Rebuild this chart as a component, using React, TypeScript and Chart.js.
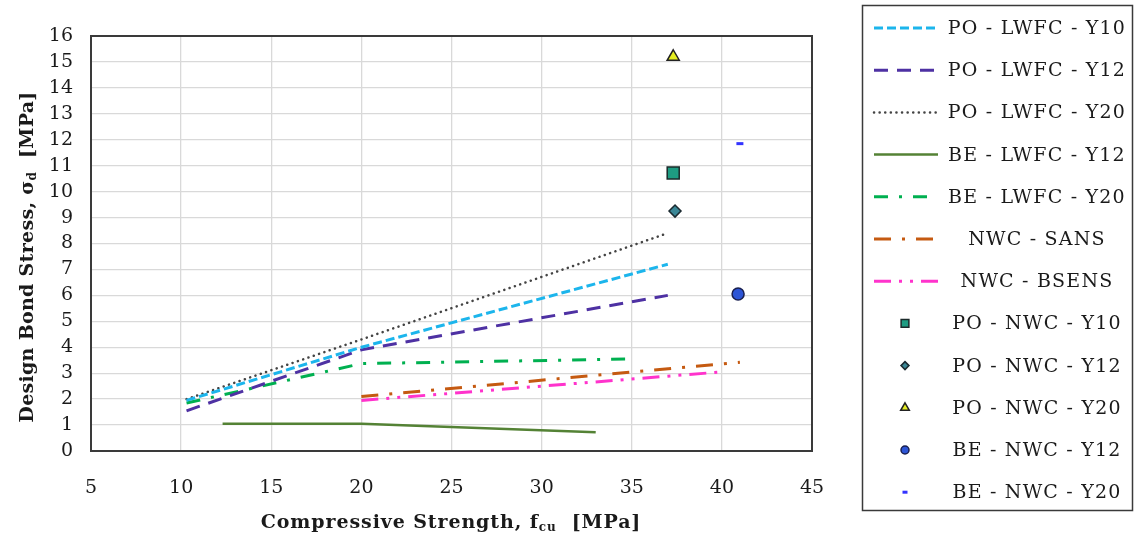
import { useEffect, useRef } from 'react';
import { Chart, registerables } from 'chart.js';
import { drawPoint } from 'chart.js/helpers';

Chart.register(...registerables);

// ---- data ----
const xTickValues = [5, 10, 15, 20, 25, 30, 35, 40, 45];
const yTickValues = [0, 1, 2, 3, 4, 5, 6, 7, 8, 9, 10, 11, 12, 13, 14, 15, 16];

const poLwfcY10X = [10.3, 20, 37];
const poLwfcY10Y = [1.95, 4.0, 7.2];
const poLwfcY12X = [10.3, 20, 37];
const poLwfcY12Y = [1.55, 3.9, 6.0];
const poLwfcY20X = [10.3, 20, 37];
const poLwfcY20Y = [2.0, 4.3, 8.4];
const beLwfcY12X = [12.3, 20, 33];
const beLwfcY12Y = [1.05, 1.05, 0.72];
const beLwfcY20X = [10.3, 20, 35.2];
const beLwfcY20Y = [1.85, 3.37, 3.55];
const nwcSansX = [20, 41];
const nwcSansY = [2.1, 3.42];
const nwcBsensX = [20, 40];
const nwcBsensY = [1.95, 3.05];

const poNwcY10 = [37.3, 10.72];
const poNwcY12 = [37.4, 9.25];
const poNwcY20 = [37.3, 15.2];
const beNwcY12 = [40.9, 6.05];
const beNwcY20 = [41.0, 11.85];

const seriesLabels = [
  'PO - LWFC - Y10',
  'PO - LWFC - Y12',
  'PO - LWFC - Y20',
  'BE - LWFC - Y12',
  'BE - LWFC - Y20',
  'NWC - SANS',
  'NWC - BSENS',
  'PO - NWC - Y10',
  'PO - NWC - Y12',
  'PO - NWC - Y20',
  'BE - NWC - Y12',
  'BE - NWC - Y20',
];

const FONT = "'DejaVu Serif', 'Liberation Serif', serif";

const pts = (xs: number[], ys: number[]) => xs.map((x, i) => ({ x, y: ys[i] }));

type Part = { t: string; sub?: boolean };

function drawRich(ctx: CanvasRenderingContext2D, parts: Part[], cx: number, cy: number, size: number, spacing: number) {
  const mainFont = `bold ${size}px ${FONT}`;
  const subFont = `bold ${Math.round(size * 0.62)}px ${FONT}`;
  (ctx as any).letterSpacing = `${spacing}px`;
  let total = 0;
  const widths = parts.map((p) => {
    ctx.font = p.sub ? subFont : mainFont;
    const w = ctx.measureText(p.t).width;
    total += w;
    return w;
  });
  let x = cx - total / 2;
  ctx.textBaseline = 'middle';
  ctx.textAlign = 'left';
  parts.forEach((p, i) => {
    ctx.font = p.sub ? subFont : mainFont;
    ctx.fillText(p.t, x, p.sub ? cy + size * 0.28 : cy);
    x += widths[i];
  });
  (ctx as any).letterSpacing = '0px';
}

const customPlugin = {
  id: 'customDecor',
  afterDraw(chart: any) {
    const ctx: CanvasRenderingContext2D = chart.ctx;
    const ca = chart.chartArea;
    ctx.save();
    // plot border
    ctx.strokeStyle = '#3a3a3a';
    ctx.lineWidth = 2;
    ctx.setLineDash([]);
    ctx.strokeRect(ca.left, ca.top, ca.right - ca.left, ca.bottom - ca.top);

    // axis titles
    ctx.fillStyle = '#1a1a1a';
    drawRich(
      ctx,
      [{ t: 'Compressive Strength, f' }, { t: 'cu', sub: true }, { t: '  [MPa]' }],
      451,
      523,
      19,
      0.9
    );
    ctx.save();
    ctx.translate(28, 257);
    ctx.rotate(-Math.PI / 2);
    drawRich(ctx, [{ t: 'Design Bond Stress, σ' }, { t: 'd', sub: true }, { t: '  [MPa]' }], 0, 0, 19, 0.3);
    ctx.restore();

    // legend box
    ctx.strokeStyle = '#3a3a3a';
    ctx.lineWidth = 1.5;
    ctx.strokeRect(862.5, 5.5, 270, 505);
    const n = chart.data.datasets.length;
    for (let i = 0; i < n; i++) {
      const ds = chart.data.datasets[i];
      const y = 28 + i * 42.2;
      if (ds.showLine) {
        ctx.save();
        ctx.strokeStyle = ds.borderColor;
        ctx.lineWidth = ds.borderWidth;
        ctx.lineCap = ds.borderCapStyle || 'butt';
        ctx.setLineDash(ds.borderDash || []);
        ctx.beginPath();
        ctx.moveTo(874, y);
        ctx.lineTo(938, y);
        ctx.stroke();
        ctx.restore();
      } else {
        ctx.save();
        ctx.fillStyle = ds.pointBackgroundColor;
        ctx.strokeStyle = ds.pointBorderColor;
        ctx.lineWidth = ds.pointBorderWidth;
        drawPoint(ctx, {
          pointStyle: ds.pointStyle,
          radius: ds.legendRadius,
          rotation: 0,
          borderWidth: ds.pointBorderWidth,
        } as any, 905, y);
        ctx.restore();
      }
      ctx.fillStyle = '#1a1a1a';
      ctx.font = `19px ${FONT}`;
      (ctx as any).letterSpacing = '1.2px';
      ctx.textAlign = 'center';
      ctx.textBaseline = 'middle';
      ctx.fillText(ds.label, 1037, y + 1);
      (ctx as any).letterSpacing = '0px';
    }
    ctx.restore();
  },
};

function lineDs(label: string, xs: number[], ys: number[], color: string, width: number, dash: number[], cap = 'butt') {
  return {
    label,
    data: pts(xs, ys),
    showLine: true,
    borderColor: color,
    backgroundColor: color,
    borderWidth: width,
    borderDash: dash,
    borderCapStyle: cap,
    pointRadius: 0,
    pointHoverRadius: 0,
    tension: 0,
    fill: false,
  };
}

function markerDs(label: string, p: number[], style: string, radius: number, fill: string, border: string, bw: number, legendRadius: number) {
  return {
    label,
    data: [{ x: p[0], y: p[1] }],
    showLine: false,
    pointStyle: style,
    pointRadius: radius,
    pointHoverRadius: radius,
    pointBackgroundColor: fill,
    pointBorderColor: border,
    pointBorderWidth: bw,
    backgroundColor: fill,
    borderColor: border,
    legendRadius,
  };
}

export default function App() {
  const ref = useRef<HTMLCanvasElement | null>(null);
  useEffect(() => {
    if (!ref.current) return;
    const datasets: any[] = [
      lineDs(seriesLabels[0], poLwfcY10X, poLwfcY10Y, '#1CB5EC', 3, [9, 4]),
      lineDs(seriesLabels[1], poLwfcY12X, poLwfcY12Y, '#4E31A3', 3, [14, 9]),
      lineDs(seriesLabels[2], poLwfcY20X, poLwfcY20Y, '#444444', 2.5, [0.1, 5.5], 'round'),
      lineDs(seriesLabels[3], beLwfcY12X, beLwfcY12Y, '#548235', 2.5, []),
      lineDs(seriesLabels[4], beLwfcY20X, beLwfcY20Y, '#00B050', 3, [14, 11, 3, 11]),
      lineDs(seriesLabels[5], nwcSansX, nwcSansY, '#C55A11', 3, [17, 11, 3, 11]),
      lineDs(seriesLabels[6], nwcBsensX, nwcBsensY, '#FF33CC', 3, [17, 8, 3, 8, 3, 8]),
      markerDs(seriesLabels[7], poNwcY10, 'rect', 8.5, '#1E9C82', '#1b2a2a', 1.5, 5.5),
      markerDs(seriesLabels[8], poNwcY12, 'rectRot', 6, '#3A8796', '#1b2a30', 1.5, 4),
      markerDs(seriesLabels[9], poNwcY20, 'triangle', 7, '#E5EE22', '#222222', 1.5, 5),
      markerDs(seriesLabels[10], beNwcY12, 'circle', 6, '#2D55D6', '#1a2050', 1.5, 4),
      markerDs(seriesLabels[11], beNwcY20, 'line', 3.5, '#3333FF', '#3333FF', 3, 2.5),
    ];
    const chart = new Chart(ref.current, {
      type: 'scatter',
      data: { datasets },
      options: {
        animation: false,
        responsive: false,
        events: [],
        layout: { padding: { top: 36, right: 323, left: 0, bottom: 0 } },
        plugins: {
          legend: { display: false },
          tooltip: { enabled: false },
          title: { display: false },
        },
        scales: {
          x: {
            type: 'linear',
            min: 5,
            max: 45,
            afterBuildTicks: (s: any) => {
              s.ticks = xTickValues.map((v) => ({ value: v }));
            },
            afterFit: (s: any) => {
              s.height = 94;
            },
            ticks: {
              padding: 26,
              color: '#1a1a1a',
              font: { family: FONT, size: 19 },
              maxRotation: 0,
            },
            grid: { color: '#d9d9d9', lineWidth: 1.3, drawTicks: false },
            border: { display: false },
          },
          y: {
            type: 'linear',
            min: 0,
            max: 16,
            afterBuildTicks: (s: any) => {
              s.ticks = yTickValues.map((v) => ({ value: v }));
            },
            afterFit: (s: any) => {
              s.width = 91;
            },
            ticks: {
              padding: 18,
              color: '#1a1a1a',
              font: { family: FONT, size: 19 },
            },
            grid: { color: '#d9d9d9', lineWidth: 1.3, drawTicks: false },
            border: { display: false },
          },
        },
      },
      plugins: [customPlugin],
    } as any);
    return () => chart.destroy();
  }, []);
  return (
    <div style={{ position: 'absolute', left: 0, top: 0, width: 1135, height: 545, background: '#fff' }}>
      <canvas ref={ref} width={1135} height={545} style={{ display: 'block' }} />
    </div>
  );
}
